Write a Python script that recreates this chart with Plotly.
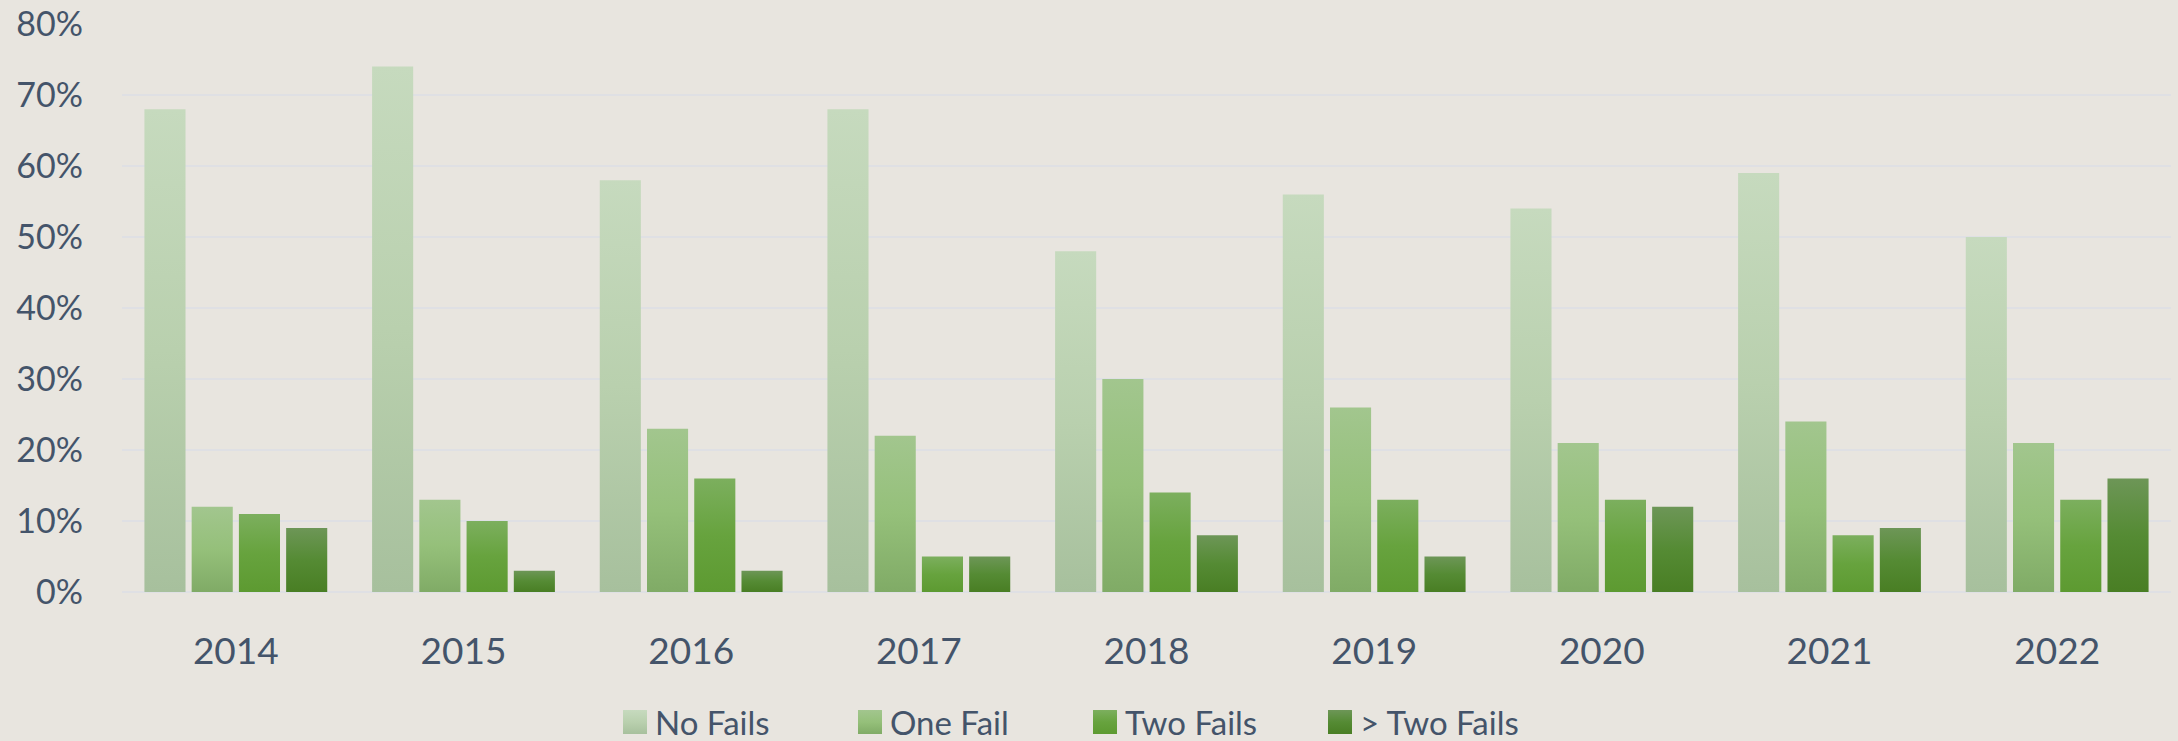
"""Share of inspections by number of fails, per year — grouped bars with vertical gradients."""
import plotly.graph_objects as go

YEARS = ["2014", "2015", "2016", "2017", "2018", "2019", "2020", "2021", "2022"]
NO_FAILS = [68, 74, 58, 68, 48, 56, 54, 59, 50]
ONE_FAIL = [12, 13, 23, 22, 30, 26, 21, 24, 21]
TWO_FAILS = [11, 10, 16, 5, 14, 13, 13, 8, 13]
MORE_FAILS = [9, 3, 3, 5, 8, 5, 12, 9, 16]

SERIES_NAMES = ["No Fails", "One Fail", "Two Fails", "> Two Fails"]

# top / middle / bottom colours of each bar gradient
GRADIENTS = [
    ["#c6dabe", "#b9d0ae", "#a7c09d"],
    ["#a2c68e", "#95c07a", "#80ab66"],
    ["#7caf5e", "#67a33e", "#5d9a31"],
    ["#6d9657", "#558b34", "#497e24"],
]

BG = "#e8e5df"
GRID = "#dfe0e4"
TEXT = "#44546a"
FONT = "Lato"

fig = go.Figure()
for name, values, stops in zip(SERIES_NAMES, [NO_FAILS, ONE_FAIL, TWO_FAILS, MORE_FAILS], GRADIENTS):
    fig.add_trace(go.Bar(
        x=YEARS,
        y=values,
        name=name,
        marker=dict(color=stops[1], line=dict(width=0)),
    ))

fig.update_layout(
    width=2178,
    height=741,
    margin=dict(l=122, r=7, t=24, b=149, autoexpand=False),
    paper_bgcolor=BG,
    plot_bgcolor=BG,
    barmode="group",
    bargap=0.17,
    bargroupgap=0.13,
    hovermode=False,
    font=dict(family=FONT, color=TEXT, size=33),
    legend=dict(
        orientation="h",
        x=0.2406,
        xanchor="left",
        y=-0.229,
        yanchor="middle",
        entrywidth=190,
        font=dict(family=FONT, size=33, color=TEXT),
        bgcolor="rgba(0,0,0,0)",
    ),
)
fig.update_xaxes(
    showgrid=False,
    showline=False,
    ticks="",
    tickfont=dict(family=FONT, size=37, color=TEXT),
    ticklabelstandoff=34,
)
fig.update_yaxes(
    range=[0, 80],
    dtick=10,
    ticksuffix="%",
    showgrid=True,
    gridcolor=GRID,
    gridwidth=2,
    zeroline=True,
    zerolinecolor=GRID,
    zerolinewidth=2,
    showline=False,
    ticks="",
    tickfont=dict(family=FONT, size=34, color=TEXT),
    ticklabelstandoff=38,
)

# plotly bars have no gradient fill, so patch the svg once the plot is drawn
stops_js = "[" + ",".join("[" + ",".join(f"'{c}'" for c in g) + "]" for g in GRADIENTS) + "]"
post_js = """
document.body.style.margin = '0';
var gd = document.getElementById('{plot_id}');
var grads = %s;
var ns = 'http://www.w3.org/2000/svg';
var svg = gd.querySelector('svg.main-svg');
var defs = svg.querySelector('defs');
grads.forEach(function(g, i) {
  var lg = document.createElementNS(ns, 'linearGradient');
  lg.setAttribute('id', 'bargrad' + i);
  lg.setAttribute('x1', '0'); lg.setAttribute('y1', '0');
  lg.setAttribute('x2', '0'); lg.setAttribute('y2', '1');
  g.forEach(function(c, j) {
    var s = document.createElementNS(ns, 'stop');
    s.setAttribute('offset', (j / (g.length - 1) * 100) + '%%');
    s.setAttribute('stop-color', c);
    lg.appendChild(s);
  });
  defs.appendChild(lg);
});
gd.querySelectorAll('.barlayer .trace.bars').forEach(function(tr, i) {
  tr.querySelectorAll('path').forEach(function(p) { p.style.fill = 'url(#bargrad' + i + ')'; });
});
gd.querySelectorAll('.legend .traces').forEach(function(tr, i) {
  tr.querySelectorAll('.legendpoints path').forEach(function(p) {
    p.setAttribute('d', 'M12,12H-12V-12H12Z');
    p.style.fill = 'url(#bargrad' + i + ')';
  });
});
""" % stops_js

fig.write_html("out.html", post_script=post_js, config={"displayModeBar": False})
